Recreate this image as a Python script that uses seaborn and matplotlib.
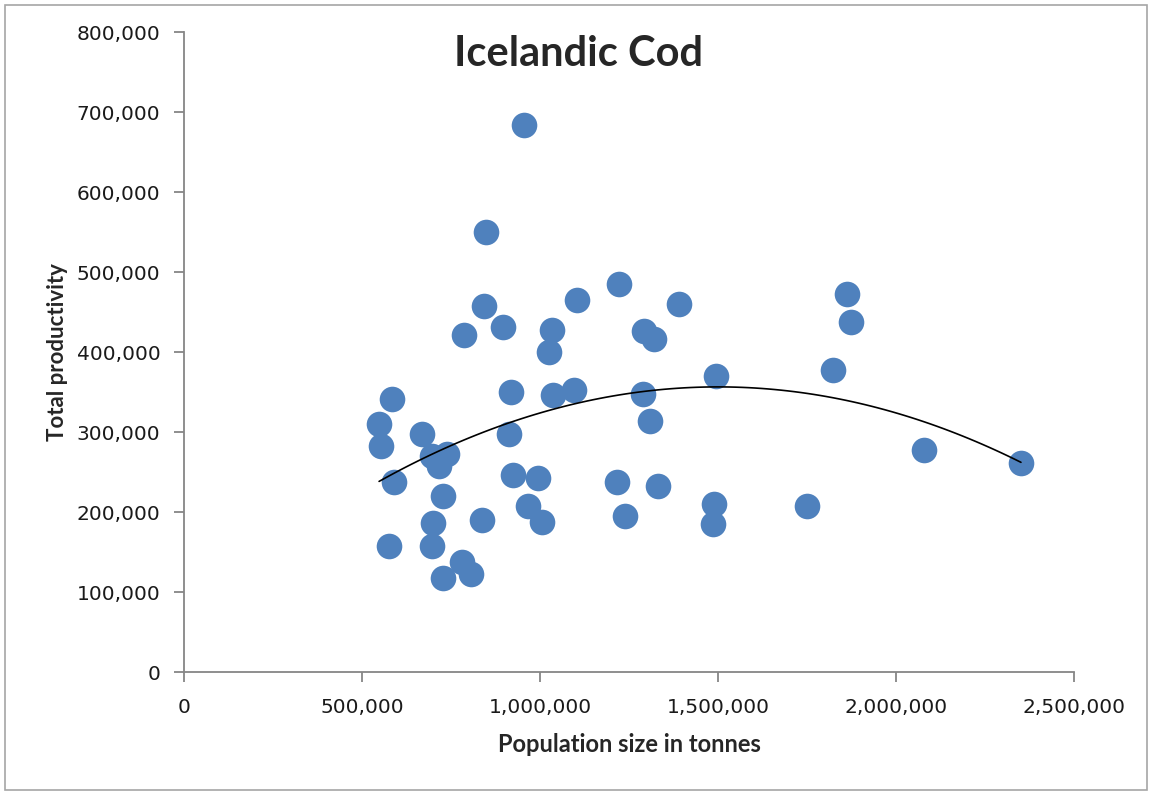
import numpy as np
import pandas as pd
import seaborn as sns
import matplotlib as mpl
import matplotlib.pyplot as plt
from matplotlib.ticker import FuncFormatter, MultipleLocator
from matplotlib.patches import Rectangle

mpl.use('Agg')

# population size (tonnes) and total productivity
population = [
    847000, 1222000, 1103000, 1391000, 842000, 787000, 896000, 1033000, 1025000, 1292000,
    1320000, 918000, 1036000, 1096000, 1288000, 1310000, 585000, 548000, 552000, 668000,
    912000, 696000, 738000, 716000, 591000, 923000, 995000, 1217000, 1332000, 727000,
    967000, 1005000, 1240000, 836000, 700000, 576000, 696000, 782000, 805000, 727000,
    955000, 1861000, 1873000, 1823000, 1495000, 2078000, 2351000, 1751000, 1490000, 1485000,
]
productivity = [
    550000, 485000, 465000, 460000, 458000, 421000, 431000, 427000, 400000, 426000,
    416000, 350000, 346000, 352000, 348000, 314000, 341000, 310000, 283000, 298000,
    297000, 270000, 273000, 257000, 237000, 246000, 243000, 237000, 232000, 220000,
    208000, 188000, 195000, 190000, 186000, 157000, 158000, 138000, 122000, 118000,
    684000, 472000, 438000, 378000, 370000, 278000, 261000, 208000, 210000, 185000,
]

df = pd.DataFrame({'Population': population, 'Productivity': productivity})

sns.set_theme(style='white')
plt.rcParams['font.family'] = ['DejaVu Sans']

fig = plt.figure(figsize=(11.51, 7.93), dpi=100)
ax = fig.add_axes([184 / 1151, 1 - 672 / 793, 890 / 1151, 640 / 793])

sns.scatterplot(data=df, x='Population', y='Productivity', ax=ax,
                color='#4F81BD', s=340, linewidth=0, zorder=2)
# second order polynomial trend line, as in the original
sns.regplot(data=df, x='Population', y='Productivity', ax=ax, order=2,
            scatter=False, ci=None, truncate=True,
            line_kws={'color': 'black', 'linewidth': 1.2, 'zorder': 3})

ax.set_xlim(0, 2500000)
ax.set_ylim(0, 800000)
ax.xaxis.set_major_locator(MultipleLocator(500000))
ax.yaxis.set_major_locator(MultipleLocator(100000))
fmt = FuncFormatter(lambda v, p: '{:,.0f}'.format(v))
ax.xaxis.set_major_formatter(fmt)
ax.yaxis.set_major_formatter(fmt)

for side in ['top', 'right']:
    ax.spines[side].set_visible(False)
for side in ['left', 'bottom']:
    ax.spines[side].set_color('#868686')
    ax.spines[side].set_linewidth(1.3)

ax.tick_params(axis='both', which='major', direction='out', length=7, width=1.3,
               color='#868686', labelsize=14.5, labelcolor='#1a1a1a',
               bottom=True, left=True)
ax.tick_params(axis='x', pad=12)
ax.tick_params(axis='y', pad=10)
ax.set_xlabel('Population size in tonnes', fontsize=17, fontweight='bold',
              family='Lato', labelpad=11)
ax.set_ylabel('Total productivity', fontsize=16, fontweight='bold',
              family='Lato', labelpad=6)

fig.text(0.503, 0.932, 'Icelandic Cod', ha='center', va='center',
         fontsize=30, fontweight='bold', family='Lato')

fig.patches.append(Rectangle((5 / 1151, 3 / 793), 1142 / 1151, 785 / 793,
                             transform=fig.transFigure, fill=False,
                             edgecolor='#A6A6A6', linewidth=1.2))

fig.savefig('out.png', dpi=100)
plt.close()
